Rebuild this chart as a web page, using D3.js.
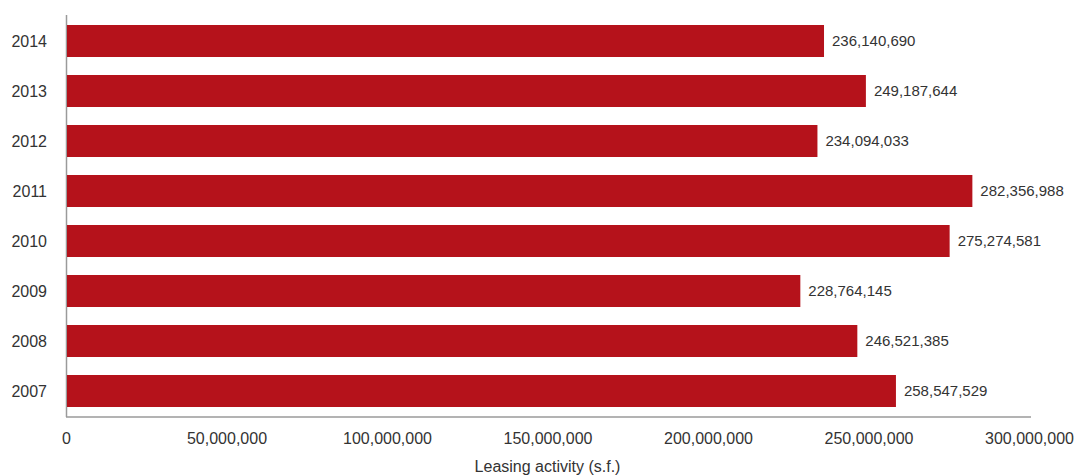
<!DOCTYPE html>
<meta charset="utf-8">
<style>
body { margin: 0; background: #fff; }
text { font-family: "Liberation Sans", Arial, sans-serif; fill: #333; }
.axis path { stroke: #9a9a9a; stroke-width: 1.5; }
.axis .tick line { display: none; }
.bar { fill: #b5121b; }
.yr { font-size: 16px; }
.val { font-size: 15px; }
.axis text { font-size: 16px; fill: #333; }
.ttl { font-size: 16px; }
</style>
<svg width="1079" height="476"></svg>
<script src="https://d3js.org/d3.v7.min.js"></script>
<script>

var years = ["2014", "2013", "2012", "2011", "2010", "2009", "2008", "2007"];
var leasing = [236140690, 249187644, 234094033, 282356988, 275274581, 228764145, 246521385, 258547529];
var xTicks = [0, 50000000, 100000000, 150000000, 200000000, 250000000, 300000000];

var svg = d3.select("svg");

var x = d3.scaleLinear().domain([0, 300000000]).range([66, 1029]),
    y = d3.scaleBand().domain(years).range([16, 416]).paddingInner(0.36).paddingOuter(0.18);

var fmt = d3.format(",");

// bottom axis
svg.append("g")
    .attr("class", "axis")
    .attr("transform", "translate(0,417)")
    .call(d3.axisBottom(x).tickValues(xTicks).tickFormat(fmt).tickSize(0).tickPadding(16).tickSizeOuter(0))
  .select("path")
    .attr("d", "M66,0H1031");

// left axis line
svg.append("line")
    .attr("x1", 66.5).attr("x2", 66.5)
    .attr("y1", 15).attr("y2", 417)
    .attr("stroke", "#9a9a9a").attr("stroke-width", 1.5);

svg.selectAll(".bar")
    .data(years)
  .enter().append("rect")
    .attr("class", "bar")
    .attr("x", x(0) + 1)
    .attr("y", function(d) { return y(d); })
    .attr("width", function(d, i) { return x(leasing[i]) - x(0) - 1; })
    .attr("height", y.bandwidth());

svg.selectAll(".yr")
    .data(years)
  .enter().append("text")
    .attr("class", "yr")
    .attr("x", 47)
    .attr("y", function(d) { return y(d) + y.bandwidth() / 2; })
    .attr("dy", "0.35em")
    .attr("text-anchor", "end")
    .text(function(d) { return d; });

svg.selectAll(".val")
    .data(years)
  .enter().append("text")
    .attr("class", "val")
    .attr("x", function(d, i) { return x(leasing[i]) + 8; })
    .attr("y", function(d) { return y(d) + y.bandwidth() / 2; })
    .attr("dy", "0.35em")
    .text(function(d, i) { return fmt(leasing[i]); });

svg.append("text")
    .attr("class", "ttl")
    .attr("x", (x(0) + x(300000000)) / 2)
    .attr("y", 472)
    .attr("text-anchor", "middle")
    .text("Leasing activity (s.f.)");

</script>
